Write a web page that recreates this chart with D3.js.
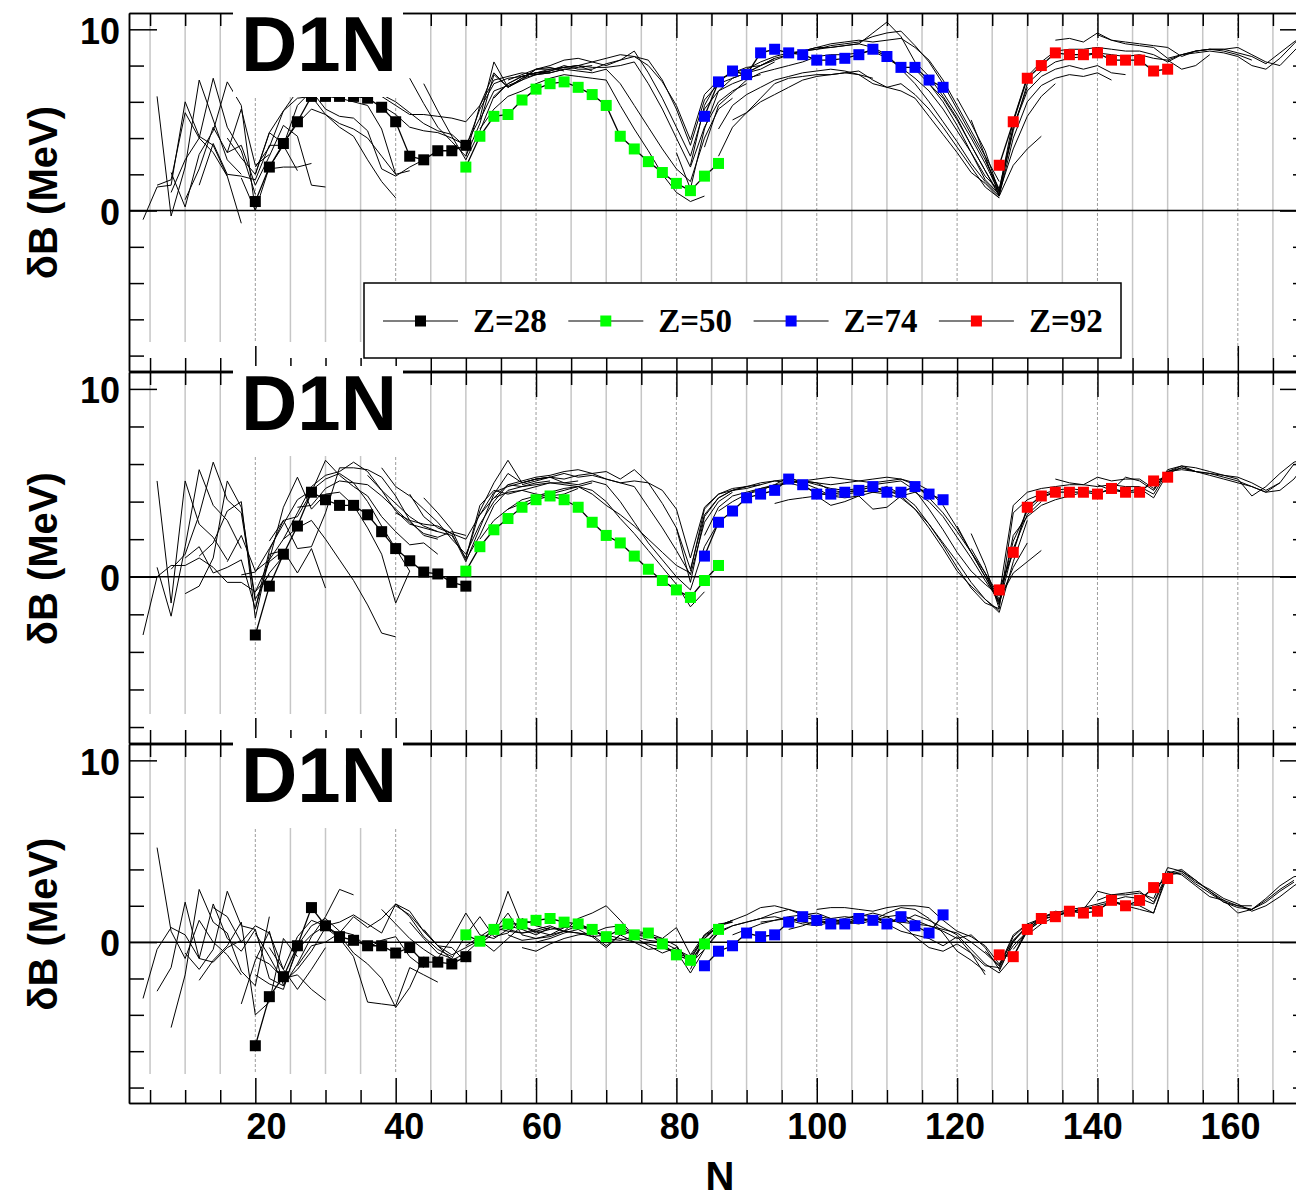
<!DOCTYPE html>
<html>
<head>
<meta charset="utf-8">
<script src="https://cdn.jsdelivr.net/npm/d3@7"></script>
<style>
  html, body { margin: 0; padding: 0; background: #fff; }
  svg { display: block; }
  text { font-family: "Liberation Sans", Arial, sans-serif; font-weight: bold; fill: #000; }
  .legend text { font-family: "Liberation Serif", "Times New Roman", serif; }
</style>
</head>
<body>
<svg id="chart" width="1296" height="1199"></svg>
<script>
// ---------------- data ----------------
// highlighted isotopic chains
const zLabels = ['Z=28', 'Z=50', 'Z=74', 'Z=92'];
const zColors = ['#000000', '#00ff00', '#0000ff', '#ff0000'];
const zFirstN = [20, 50, 84, 126];   // first N of each highlighted chain, then one value every 2 neutrons

// top panel
const top_Z28 = [0.5, 2.4, 3.7, 4.9, 6.3, 6.3, 6.3, 6.3, 6.2, 5.7, 4.9, 3.0, 2.8, 3.3, 3.3, 3.6];
const top_Z50 = [2.4, 4.1, 5.2, 5.3, 6.1, 6.7, 7.0, 7.1, 6.8, 6.4, 5.8, 4.1, 3.4, 2.7, 2.1, 1.5, 1.1, 1.9, 2.6];
const top_Z74 = [5.2, 7.1, 7.7, 7.5, 8.7, 8.9, 8.7, 8.6, 8.3, 8.3, 8.4, 8.6, 8.9, 8.5, 7.9, 7.9, 7.2, 6.8];
const top_Z92 = [2.5, 4.9, 7.3, 8.0, 8.7, 8.6, 8.6, 8.7, 8.3, 8.3, 8.3, 7.7, 7.8];
// middle panel
const mid_Z28 = [-3.1, -0.5, 1.2, 2.7, 4.5, 4.1, 3.8, 3.8, 3.3, 2.4, 1.5, 0.85, 0.25, 0.15, -0.3, -0.5];
const mid_Z50 = [0.3, 1.6, 2.5, 3.1, 3.7, 4.1, 4.3, 4.1, 3.7, 2.9, 2.2, 1.8, 1.1, 0.4, -0.2, -0.7, -1.1, -0.2, 0.6];
const mid_Z74 = [1.1, 2.9, 3.5, 4.2, 4.4, 4.6, 5.2, 4.9, 4.4, 4.4, 4.5, 4.6, 4.8, 4.5, 4.5, 4.8, 4.4, 4.1];
const mid_Z92 = [-0.7, 1.3, 3.7, 4.3, 4.5, 4.5, 4.5, 4.4, 4.7, 4.5, 4.5, 5.1, 5.3];
// bottom panel
const bot_Z28 = [-5.7, -3.0, -1.9, -0.2, 1.9, 0.9, 0.3, 0.1, -0.2, -0.2, -0.6, -0.3, -1.1, -1.1, -1.2, -0.8];
const bot_Z50 = [0.4, 0.05, 0.7, 1.0, 1.0, 1.2, 1.3, 1.1, 1.0, 0.7, 0.3, 0.7, 0.4, 0.5, -0.1, -0.7, -1.0, -0.1, 0.7];
const bot_Z74 = [-1.3, -0.5, -0.2, 0.5, 0.3, 0.4, 1.1, 1.4, 1.2, 1.0, 1.0, 1.3, 1.2, 1.0, 1.4, 0.9, 0.5, 1.5];
const bot_Z92 = [-0.7, -0.8, 0.7, 1.3, 1.4, 1.7, 1.6, 1.7, 2.3, 2.0, 2.3, 3.0, 3.5];

// all other chains (thin lines): first entry is the starting N, then one value every 2 neutrons
const top_chains = [
  [4, -0.5, 1.3, 1.4, 6.0, 4.1, 3.6, 1.9],
  [6, 6.3, -0.3, 2.4, 7.2, 5.0, 2.8, 2.0],
  [6, 1.4, 1.7, 5.4, 4.0, 7.3, 4.6, 3.3, 0.9],
  [8, 2.1, 0.2, 3.1, 4.4, 7.1, 5.8, 0.0],
  [10, 0.6, 2.3, 4.6, 3.2, 5.6, 2.5, 3.1],
  [12, 1.4, 3.7, 2.0, 1.9, 1.7, 3.6, 3.6, 2.2],
  [8, 1.0, 2.8, 4.0, 3.2, 1.9, -0.7],
  [16, 4.0, 2.9, 2.0, 4.3, 5.5, 6.6, 6.4, 6.3, 6.2, 6.0, 5.8, 4.5, 2.0],
  [18, 1.8, 0.0, 2.4, 3.6, 5.8, 6.6, 5.6, 5.2, 5.1, 4.4, 2.3, 1.9, 2.4, 2.8],
  [16, 3.2, 3.6, 1.4, 3.0, 4.7, 4.1, 1.4, 1.3],
  [20, 2.4, 3.5, 5.5, 6.2, 6.3, 5.3, 4.6, 4.1, 2.8, 1.6, 0.7],
  [22, 2.3, 2.4, 2.4, 2.6],
  [20, 2.0, 4.3, 3.7, 4.8, 5.6, 5.3, 4.8, 4.5, 4.0, 3.0, 2.0, 2.2],
  [36, 6.5, 6.3, 5.8, 5.3, 5.3, 5.2, 5.1, 4.9, 5.8, 7.2, 7.4, 7.6, 7.5, 7.7],
  [38, 6.4, 6.0, 5.4, 4.8, 4.4, 4.2, 3.5, 5.6, 7.0, 7.3, 7.4, 7.6, 7.6],
  [42, 7.3, 5.9, 4.6, 3.8, 3.0, 4.8, 7.5, 6.8, 7.3, 7.8, 7.9, 7.7],
  [44, 7.0, 5.5, 4.1, 2.8, 4.4, 6.3, 7.0, 7.4, 7.6, 7.7, 7.9, 8.0, 7.7],
  [38, 5.8, 5.3, 4.6, 4.4, 4.3, 4.0, 3.6, 5.1, 8.2, 6.8, 7.3, 7.5, 7.6, 7.8, 7.9, 8.0],
  [52, 4.5, 5.6, 6.3, 6.6, 7.0, 7.3, 7.5, 7.4, 7.3, 7.2, 5.8, 4.5, 3.3, 2.0, 1.0, 0.5, 0.8],
  [50, 3.0, 5.8, 7.6, 6.8, 7.2, 7.5, 7.6, 7.8, 7.7, 7.6, 7.8, 7.0, 5.8, 4.6, 3.4, 2.3, 1.6, 4.0, 5.6, 6.2],
  [52, 5.0, 6.6, 6.9, 7.2, 7.8, 7.8, 7.9, 8.0, 7.9, 7.9, 8.0, 8.2, 7.0, 5.6, 4.0, 2.4, 4.6, 6.0, 6.6, 7.0],
  [54, 6.2, 7.0, 7.4, 7.6, 7.7, 8.0, 7.8, 7.8, 8.1, 8.3, 8.8, 7.6, 6.2, 4.6, 3.0, 5.6, 6.6, 7.0, 7.3, 7.5],
  [56, 7.2, 7.5, 7.8, 8.0, 8.3, 8.4, 8.2, 8.0, 8.3, 8.5, 8.3, 7.2, 5.6, 3.6, 6.1, 7.0, 7.3, 7.6, 7.8, 8.2],
  [58, 7.4, 7.6, 7.8, 7.9, 8.0, 8.2, 8.4, 8.6, 8.5, 8.0, 7.1, 5.8, 3.9, 6.4, 7.2, 7.6, 7.9, 8.0, 8.4],
  [80, 3.2, 1.2, 4.5, 6.6, 7.3, 7.6, 8.0, 8.3, 8.6, 8.8, 8.9, 9.0, 9.1, 9.2, 9.8, 10.4, 9.6, 8.2, 7.4, 6.3, 5.1, 3.6, 2.2, 0.9],
  [82, 2.5, 5.8, 7.2, 7.6, 7.8, 8.2, 8.5, 8.7, 8.8, 9.0, 9.0, 9.1, 9.2, 9.0, 8.6, 7.8, 7.0, 6.0, 4.9, 3.8, 2.6, 1.6, 0.8],
  [84, 3.5, 5.8, 6.5, 7.2, 7.6, 7.8, 8.0, 8.2, 8.5, 8.6, 8.6, 8.7, 8.8, 8.4, 7.9, 7.3, 6.6, 5.6, 4.4, 3.2, 1.9, 1.1],
  [86, 4.5, 5.8, 6.4, 6.8, 7.2, 7.4, 7.6, 7.7, 7.8, 7.7, 7.5, 7.0, 6.8, 7.0, 6.4, 5.6, 4.6, 3.5, 2.4, 1.3, 0.7],
  [86, 3.0, 4.6, 5.4, 6.0, 6.4, 6.8, 7.2, 7.4, 7.5, 7.6, 7.5, 7.3],
  [88, 5.0, 5.4, 6.2, 7.0, 7.3, 7.4, 7.5, 7.5, 7.6, 7.7, 7.2, 6.8, 6.6, 6.2, 5.2, 4.2, 3.2, 2.1, 1.5, 0.7],
  [90, 7.6, 8.0, 8.4, 8.6, 8.8, 9.0, 9.2, 9.3, 9.4, 9.3, 9.4, 9.5, 9.0, 8.3, 7.2, 5.8, 4.4, 3.0, 1.6],
  [96, 8.6, 8.8, 8.9, 9.1, 9.2, 9.3, 9.6, 9.8, 9.9, 9.1, 8.2, 7.0, 5.6, 4.2, 2.8, 1.2, 4.6, 6.8],
  [122, 5.0, 3.0, 0.8, 2.5, 3.4, 4.1],
  [118, 6.5, 5.3, 4.0, 2.6, 1.0, 3.4, 5.2, 6.3, 7.0],
  [116, 7.0, 6.2, 5.0, 3.6, 2.2, 0.8, 4.0, 6.0, 6.9, 7.3, 7.5, 7.4, 7.6, 7.2],
  [114, 7.8, 7.0, 6.0, 4.7, 3.2, 1.7, 0.9, 4.6, 6.6, 7.4, 7.8, 8.0, 7.8, 8.0, 7.6, 7.5],
  [120, 6.2, 4.8, 3.3, 1.0, 4.4, 7.0, 7.7, 8.2, 8.4, 8.5, 8.7, 8.6, 8.5, 8.6, 8.4, 8.3, 7.8, 8.0, 8.6],
  [124, 2.8, 1.1, 5.0, 7.4, 8.2, 8.8, 8.9, 8.9, 9.0, 8.9, 8.8, 8.8, 8.6, 8.2, 8.6, 8.8, 8.9, 8.8, 8.6, 8.3],
  [134, 9.4, 9.5, 9.3, 9.8, 9.4, 9.2, 9.1, 9.0, 8.4, 8.6, 8.8, 8.9, 8.9, 8.7, 8.5, 8.1, 8.7, 9.3, 9.8],
  [140, 9.7, 9.4, 9.3, 9.2, 9.1, 9.0, 8.5, 8.8, 8.9, 8.9, 9.0, 8.6, 8.2, 8.0, 8.8, 9.6],
  [150, 8.3, 8.6, 8.7, 8.8, 8.7, 8.5, 8.0, 7.8, 8.4, 9.2, 10.0]
];

const mid_chains = [
  [4, -3.1, 0.0, 0.6, 0.6, 1.0, 0.5, -0.3, -0.3, -0.8, 0.1],
  [6, 5.1, -1.4, 5.1, 2.8, 2.1, 0.9],
  [6, 0.5, -2.1, 1.6, 5.7, 3.8, 3.0, 1.5],
  [8, 0.4, 1.2, 3.3, 6.1, 4.1, 3.4, -1.3],
  [10, -0.9, -0.5, 1.0, 5.1, 3.7, -1.2, 0.2, 1.1],
  [10, 1.0, 1.6, 0.2, 0.5, 0.9, -1.7, 0.9],
  [12, 1.1, 1.8, 3.5, 4.0, -2.2, 1.2, 1.4],
  [16, 0.8, 2.2, 0.3, 0.9, 3.7, 5.3, 3.6, 4.4, 4.5, 3.8, 2.6, 1.2, -1.4, 0.3],
  [18, 0.1, 0.25, 1.5, 2.8, 4.1, 4.6, 5.2, 5.5, 5.0, 4.0, 2.7, 1.5, 0.3],
  [22, 0.9, 2.0, 2.6, 3.0, 2.0, 0.9, -0.2, -1.5, -3.0, -3.2],
  [20, -1.7, 1.4, 3.0, 3.2, 4.5, 6.2, 5.4, 4.8, 4.3, 3.2, 2.4, 1.7, 1.8, 1.2],
  [22, 1.9, 3.0, 1.5, 1.6, 3.4, 5.8, 5.8, 5.7, 5.3, 4.3, 3.0, 2.2, 2.0],
  [24, 2.0, 3.4, 4.8, 5.4, 5.6, 6.1, 5.6, 4.6, 3.5, 2.8, 2.6, 2.4],
  [20, -0.8, 0.8, 1.4, 0.2, 1.5, -0.6],
  [26, 3.7, 3.8, 4.7, 5.1, 5.0, 4.9, 4.3, 3.6, 2.9, 2.3, 2.1, 2.4, 2.2],
  [36, 5.4, 4.6, 3.9, 3.2, 2.7, 2.4, 2.2, 1.0, 3.5, 5.0, 6.2, 5.0, 5.2, 5.3],
  [38, 5.8, 4.8, 4.3, 3.6, 2.9, 2.0, 1.2, 2.8, 4.0, 4.9, 4.8, 5.0, 5.1],
  [42, 4.4, 3.2, 2.6, 2.3, 0.8, 2.6, 4.4, 5.5, 5.0, 5.2, 5.3, 5.0, 5.1],
  [44, 4.2, 3.4, 2.5, 0.9, 2.2, 3.8, 4.6, 4.8, 4.9, 5.0, 4.9, 4.8, 5.0],
  [40, 3.4, 3.0, 2.8, 2.7, 2.3, 2.0, 3.3, 4.2, 4.5, 4.6, 4.4, 4.3, 4.4, 4.7],
  [52, 2.0, 3.0, 3.6, 4.1, 4.3, 4.5, 4.7, 4.8, 4.6, 4.0, 3.1, 2.3, 1.4, 0.5, -0.4, -1.6, -0.8],
  [50, 1.0, 3.8, 4.6, 4.4, 4.6, 4.8, 5.0, 5.0, 4.9, 5.1, 4.9, 4.0, 2.9, 1.8, 0.9, 0.0, -0.7, 1.6, 2.9],
  [52, 3.3, 4.5, 4.8, 5.0, 5.2, 5.3, 5.2, 5.4, 5.5, 5.2, 5.0, 4.8, 3.7, 2.6, 1.4, 0.1, 2.9, 4.0, 4.5],
  [54, 4.2, 4.9, 5.1, 5.3, 5.4, 5.6, 5.7, 5.5, 5.6, 5.2, 5.7, 5.0, 3.9, 2.6, 0.4, 3.3, 4.2, 4.6, 4.8],
  [58, 4.9, 5.1, 5.3, 5.5, 5.3, 5.4, 5.2, 5.0, 5.1, 5.0, 4.6, 3.6, 1.0, 3.7, 4.4, 4.7, 4.8, 4.9],
  [56, 3.6, 3.9, 4.2, 4.4, 4.6, 4.8, 4.4, 3.8, 3.3, 2.7, 2.0, 1.3, 0.6, 0.2],
  [80, 2.6, -0.3, 3.2, 4.2, 4.6, 4.8, 5.0, 5.1, 5.2, 5.1, 4.9, 4.7, 4.6, 4.7, 4.9, 5.0, 5.1, 4.6, 3.6, 2.5, 1.3, 0.3, -0.4, -1.0],
  [82, 0.3, 3.6, 4.4, 4.6, 4.7, 4.9, 5.1, 5.0, 4.8, 4.5, 4.3, 4.4, 4.5, 4.6, 4.8, 4.4, 3.8, 2.8, 1.7, 0.5, -0.6, -1.4, -1.7],
  [84, 2.2, 3.7, 4.3, 4.5, 4.7, 4.9, 5.3, 5.0, 4.7, 4.3, 4.2, 4.3, 4.5, 4.4, 4.2, 3.6, 2.6, 1.5, 0.3, -0.5, -1.2, -1.8],
  [86, 3.5, 4.0, 4.4, 4.6, 4.9, 5.0, 5.1, 5.0, 4.6, 4.5, 4.6, 4.5, 4.6, 4.3, 3.6, 2.8, 1.8, 0.8, -0.3, -1.2, -1.9, 0.8, 3.0],
  [90, 4.4, 4.7, 4.8, 5.0, 5.1, 5.2, 5.3, 5.2, 5.1, 5.0, 5.1, 5.2, 4.9, 4.2, 3.4, 2.4, 1.3, 0.2, -1.5, 1.5, 3.3, 4.0],
  [94, 3.9, 4.1, 4.2, 4.3, 3.8, 4.0, 4.3, 3.6, 3.7, 4.3, 4.5, 4.0, 3.2, 2.1, 1.0, -0.2, -1.3, 0.5, 1.8],
  [96, 5.0, 5.1, 5.0, 4.9, 5.0, 5.1, 5.2, 5.3, 5.2, 5.0, 4.6, 3.8, 2.6, 1.3, 0.0, -1.3, 1.9, 3.5, 4.2, 4.5],
  [122, 1.5, 0.2, -1.2, 0.2, 0.8, 1.4],
  [120, 2.7, 1.3, 0.0, -1.4, 2.2, 3.2, 3.8, 4.1, 4.3, 4.5],
  [122, 2.3, 0.6, -1.7, 3.4, 4.1, 4.4, 4.6, 4.7, 4.6, 4.5, 4.6, 4.5, 4.7, 4.2, 5.5, 5.8, 5.6],
  [124, 0.2, -1.0, 3.8, 4.5, 4.7, 4.8, 4.9, 4.9, 4.8, 4.9, 4.8, 4.8, 4.4, 5.6, 5.9, 5.6, 5.5, 5.3, 5.1, 4.8, 4.5, 5.0],
  [134, 5.2, 5.0, 4.9, 5.3, 5.1, 5.2, 5.2, 4.7, 5.6, 5.8, 5.6, 5.5, 5.4, 5.3, 5.0, 4.6, 5.0, 6.0],
  [140, 4.9, 4.6, 5.3, 5.1, 4.6, 5.7, 5.9, 5.8, 5.6, 5.4, 5.2, 4.3, 4.8, 5.5, 6.1, 6.3],
  [148, 4.6, 5.6, 5.7, 5.6, 5.4, 5.2, 5.0, 4.8, 4.5, 4.6, 5.2, 6.2]
];

const bot_chains = [
  [4, -3.1, -0.4, 0.8, 0.4, -0.9, -1.1, -0.3, 0.1],
  [6, 5.2, 0.6, -0.9, 1.2, 0.0, -0.7, -1.8],
  [6, -2.7, -1.4, 2.2, -0.9, 2.1, 0.2, -0.5, 0.7],
  [8, -4.7, -1.8, 2.9, 1.1, 0.5, -1.6, -2.4, 1.4],
  [10, -0.6, -1.5, -0.4, 2.8, 0.9, 0.7, -2.0, -2.4],
  [12, -2.1, -1.0, -0.2, 1.1, -4.0, -3.3, 0.2, -0.8],
  [14, 1.9, 1.4, 0.0, 0.9, 0.5, -1.5, -2.6, -1.5, -0.3],
  [18, -3.4, -1.0, 0.6, -2.4, -1.2, 0.3, 1.4, 2.9, 2.6],
  [20, -1.8, -2.3, -2.6, -0.2, 0.9, 1.3, 0.6, 0.4, -0.3, 0.1, 0.3, -0.8, -1.4],
  [20, 0.5, -0.8, -2.2, -1.5, -0.5, 0.8, 0.2, -0.8, -3.3, -3.4, -3.5, -1.4, -1.8, -2.2],
  [20, -0.8, -1.2, -2.0, -1.8, -2.6, -3.2],
  [22, -0.3, -1.5, 0.3, 1.2, 0.9, 0.4, -0.6, -1.2, -2.0, -3.6, -2.5, -0.8],
  [24, -2.4, -0.4, 0.4, 0.9, 1.1, 1.5, 1.0, 0.5, 2.1, 1.4, 0.3, -0.4, -0.8],
  [26, -1.3, -0.2, 0.0, 0.5, 1.4, 0.8, 1.3, 2.1, 1.7, 0.6, -0.2, -0.3, -1.1],
  [38, 1.8, 1.0, 0.2, -0.4, -0.9, 0.2, 1.6, 0.4, 0.2, 0.7, 0.5, 0.6, 0.8],
  [40, 2.0, 1.5, 0.6, -0.2, -0.7, -0.3, 0.1, 0.6, 2.8, 0.9, 0.5, 0.7],
  [42, 1.1, 0.2, -0.6, -0.9, 0.4, 1.4, 0.3, 0.5, 1.3, 0.9, 0.7, 0.8],
  [44, 0.7, -0.2, -1.0, -0.6, 0.1, -0.5, 0.2, 0.9, 0.6, 0.4, 0.8, 0.9, 0.6],
  [50, -0.2, 0.3, 0.8, 0.6, 0.5, 0.7, 0.9, 0.6, 0.5, 0.3, 0.4, 0.2, 0.0, -0.1, -0.3, -0.5, -1.7, -0.4],
  [52, -0.1, 0.5, 0.9, 0.7, 0.4, 0.8, 0.6, 0.9, 0.7, 0.2, 0.1, 0.3, -0.2, -0.6, -0.3, -1.0, 0.4, 0.8],
  [54, 0.6, 1.6, 0.4, 0.2, 0.4, 0.6, 0.5, 0.4, -0.2, 0.4, 0.0, -0.4, -0.3, -0.6, -0.9, 0.2, 0.9, 1.1],
  [56, 0.4, 0.1, 0.2, 0.3, 0.6, 1.3, 1.6, 2.0, 1.2, 0.3, 0.1, 0.0, -0.4, -0.8, 0.3, 0.9, 1.2],
  [58, -0.3, -0.5, -0.1, 0.2, 0.4, 0.5, 0.8, 0.9, 0.4, 0.3, 0.2, 0.8, -0.7, 0.4, 1.0, 1.1],
  [60, 0.0, 0.2, 0.5, 0.7, 0.3, -0.3, 0.4, 0.6, 0.5, 0.2, -0.2, -1.2, 0.2, 0.9, 1.2],
  [80, -0.2, -1.2, -0.4, 0.6, 0.9, 1.1, 1.3, 1.6, 1.8, 1.6, 1.4, 1.3, 1.4, 1.3, 1.2, 1.6, 1.9, 1.8, 1.3, 0.5, -0.5, -1.0, -1.6],
  [82, -1.5, 0.2, 0.9, 1.2, 1.5, 1.9, 2.0, 1.8, 1.5, 1.3, 1.2, 1.1, 1.4, 1.6, 1.4, 1.0, 0.3, -0.3, -0.5, -0.1, -0.6, -1.8],
  [84, -0.4, 0.5, 0.9, 1.1, 1.3, 1.4, 1.2, 1.0, 0.9, 1.1, 1.3, 1.5, 1.4, 1.0, 0.6, 0.4, 0.2, -0.2, 0.3, -0.6, -1.3, -1.4, 0.3, 1.0],
  [88, 0.4, 0.7, 1.0, 1.2, 1.3, 1.1, 1.0, 1.2, 1.0, 1.1, 1.3, 1.2, 1.1, 1.5, 1.2, 0.8, 0.4, -0.4, -1.2, -1.7, -0.8, 0.6, 1.2],
  [92, 1.1, 1.2, 1.4, 1.5, 1.6, 1.3, 1.1, 1.0, 1.2, 1.4, 1.5, 1.2, 0.9, 0.6, 0.2, 0.4, -0.3, -1.5, 0.0, 0.9],
  [96, 0.7, 0.9, 1.2, 1.1, 1.0, 1.2, 1.3, 1.2, 1.1, 1.0, 0.9, 0.7, 0.5, 0.0, -0.6, -1.3, -0.2, 0.6, 1.4, 1.6],
  [100, 1.8, 1.9, 1.9, 1.8, 1.7, 1.9, 2.0, 2.0, 1.9, 1.2, 0.6, 0.3, -0.2, -1.2, 0.1, 0.8, 1.4],
  [124, -0.5, -1.3, 0.4, 1.0, 1.3, 1.6, 1.8, 1.9, 2.1, 2.3, 2.5, 2.4, 2.1, 3.7, 3.9, 3.4, 2.8, 2.3, 2.0, 2.0],
  [126, -1.6, 0.1, 0.9, 1.3, 1.7, 1.6, 1.8, 2.8, 2.6, 2.6, 2.7, 2.4, 4.1, 3.9, 3.3, 2.9, 2.4, 2.1, 1.7, 2.0, 2.5, 3.1, 3.6],
  [128, -0.4, 0.6, 1.2, 1.5, 1.6, 1.9, 1.8, 2.2, 2.0, 1.8, 1.6, 3.7, 3.8, 3.2, 2.7, 2.2, 2.0, 1.8, 2.2, 2.8, 3.3],
  [130, 0.4, 1.0, 1.4, 1.7, 1.8, 2.0, 2.2, 2.1, 2.0, 1.6, 3.9, 3.7, 3.1, 2.5, 2.3, 1.6, 1.8, 2.3, 2.9, 3.4],
  [140, 2.3, 2.6, 2.7, 2.8, 2.2, 3.8, 4.0, 3.4, 2.8, 2.2, 1.9, 1.8, 2.4, 3.1, 3.6, 3.7]
];

// axis values
const gridN = [5, 10, 15, 20, 25, 30, 35, 40, 45, 50, 55, 60, 65, 70, 75, 80, 85, 90, 95, 100,
               105, 110, 115, 120, 125, 130, 135, 140, 145, 150, 155, 160, 165];
const nLabels = [20, 40, 60, 80, 100, 120, 140, 160];
const yMinorTicks = [-8, -6, -4, -2, 2, 4, 6, 8];
const yLabelTicks = [0, 10];
const panelTitle = 'D1N';
const yTitle = 'δB (MeV)';
const xTitle = 'N';

// ---------------- layout ----------------
const svg = d3.select('#chart');
const x = d3.scaleLinear().domain([2, 170]).range([129, 1308]);
// the printed N labels sit on a slightly different spacing than the grid in the original figure
const xLabel = d3.scaleLinear().domain([20, 160]).range([266, 1230]);
const Y_DOMAIN = [-8.85, 10.9];

const panels = [
  { top: 13,  bottom: 371,  hl: [top_Z28, top_Z50, top_Z74, top_Z92], chains: top_chains },
  { top: 372, bottom: 743,  hl: [mid_Z28, mid_Z50, mid_Z74, mid_Z92], chains: mid_chains },
  { top: 744, bottom: 1103, hl: [bot_Z28, bot_Z50, bot_Z74, bot_Z92], chains: bot_chains }
];

const toPoints = (n0, vals) => vals.map((v, i) => [n0 + 2 * i, v]);
const isMajor = n => n % 20 === 0;

function drawPanel(p) {
  const y = d3.scaleLinear().domain(Y_DOMAIN).range([p.bottom, p.top]);
  const g = svg.append('g');

  // vertical grid (left block ends a bit higher, as in the original)
  g.selectAll('line.grid').data(gridN).join('line')
    .attr('class', 'grid')
    .attr('x1', d => x(d)).attr('x2', d => x(d))
    .attr('y1', p.top)
    .attr('y2', d => d <= 40 ? p.bottom - 29 : p.bottom - 13)
    .attr('stroke', d => isMajor(d) ? '#9c9c9c' : '#c6c6c6')
    .attr('stroke-width', d => isMajor(d) ? 1 : 1.5)
    .attr('stroke-dasharray', d => isMajor(d) ? '3,2' : null);

  // zero line
  g.append('line')
    .attr('x1', x(2)).attr('x2', x(170))
    .attr('y1', y(0)).attr('y2', y(0))
    .attr('stroke', '#000').attr('stroke-width', 1.5);

  const line = d3.line().x(d => x(d[0])).y(d => y(d[1]));

  // all chains
  g.selectAll('path.chain').data(p.chains).join('path')
    .attr('class', 'chain')
    .attr('d', c => line(toPoints(c[0], c.slice(1))))
    .attr('fill', 'none')
    .attr('stroke', '#000')
    .attr('stroke-width', 1);

  // highlighted chains
  p.hl.forEach((vals, k) => {
    const pts = toPoints(zFirstN[k], vals);
    g.append('path')
      .attr('d', line(pts))
      .attr('fill', 'none')
      .attr('stroke', '#000')
      .attr('stroke-width', 1.3);
    g.append('g').selectAll('rect').data(pts).join('rect')
      .attr('x', d => x(d[0]) - 5.5)
      .attr('y', d => y(d[1]) - 5.5)
      .attr('width', 11).attr('height', 11)
      .attr('fill', zColors[k]);
  });

  // frame + ticks
  const frame = svg.append('g');
  const tickStyle = sel => {
    sel.selectAll('line').attr('stroke', '#000').attr('stroke-width', 1.5);
    sel.select('.domain').attr('stroke', '#000').attr('stroke-width', 1.5);
    sel.selectAll('text').remove();
  };
  frame.append('g').attr('transform', `translate(0,${p.top})`)
    .call(d3.axisTop(x).tickValues(gridN.filter(n => !isMajor(n))).tickSize(-13).tickSizeOuter(0))
    .call(tickStyle);
  frame.append('g').attr('transform', `translate(0,${p.top})`)
    .call(d3.axisTop(x).tickValues(gridN.filter(isMajor)).tickSize(-25).tickSizeOuter(0))
    .call(tickStyle);
  frame.append('g').attr('transform', `translate(0,${p.bottom})`)
    .call(d3.axisBottom(x).tickValues(gridN.filter(n => !isMajor(n))).tickSize(-13).tickSizeOuter(0))
    .call(tickStyle);
  frame.append('g').attr('transform', `translate(0,${p.bottom})`)
    .call(d3.axisBottom(x).tickValues(gridN.filter(isMajor)).tickSize(-25).tickSizeOuter(0))
    .call(tickStyle);

  frame.append('g').attr('transform', `translate(${x(2)},0)`)
    .call(d3.axisLeft(y).tickValues(yMinorTicks).tickSize(-15).tickSizeOuter(0))
    .call(tickStyle);
  frame.append('g').attr('transform', `translate(${x(170)},0)`)
    .call(d3.axisRight(y).tickValues(yMinorTicks).tickSize(-15).tickSizeOuter(0))
    .call(tickStyle);
  frame.append('g').attr('transform', `translate(${x(170)},0)`)
    .call(d3.axisRight(y).tickValues(yLabelTicks).tickSize(-28).tickSizeOuter(0))
    .call(tickStyle);

  const yAx = frame.append('g').attr('transform', `translate(${x(2)},0)`)
    .call(d3.axisLeft(y).tickValues(yLabelTicks).tickSize(-28).tickSizeOuter(0).tickPadding(9).tickFormat(d3.format('d')));
  yAx.selectAll('line').attr('stroke', '#000').attr('stroke-width', 1.5);
  yAx.select('.domain').attr('stroke', '#000').attr('stroke-width', 1.5);
  yAx.selectAll('text').attr('font-size', 36).attr('font-family', '"Liberation Sans", Arial, sans-serif')
    .attr('font-weight', 'bold').attr('fill', '#000').attr('dy', '0.38em');

  // y title
  svg.append('text')
    .attr('transform', `translate(57,${y(0) - 18}) rotate(-90)`)
    .attr('text-anchor', 'middle')
    .attr('font-size', 40)
    .text(yTitle);

  // white label block with the interaction name
  svg.append('rect')
    .attr('x', 233).attr('y', p.top - 6)
    .attr('width', 170).attr('height', 90)
    .attr('fill', '#fff');
  svg.append('text')
    .attr('x', 319).attr('y', p.top + 58)
    .attr('text-anchor', 'middle')
    .attr('font-size', 78)
    .text(panelTitle);

  return y;
}

panels.forEach(drawPanel);

// N labels under the last panel
const xAx = svg.append('g').attr('transform', `translate(0,${panels[2].bottom})`)
  .call(d3.axisBottom(xLabel).tickValues(nLabels).tickSize(0).tickPadding(10).tickFormat(d3.format('d')));
xAx.select('.domain').remove();
xAx.selectAll('text').attr('font-size', 36).attr('font-family', '"Liberation Sans", Arial, sans-serif')
  .attr('font-weight', 'bold').attr('fill', '#000');

svg.append('text')
  .attr('x', 720).attr('y', 1190)
  .attr('text-anchor', 'middle')
  .attr('font-size', 40)
  .text(xTitle);

// legend in the top panel
const legend = svg.append('g').attr('class', 'legend');
legend.append('rect')
  .attr('x', 364).attr('y', 283).attr('width', 757).attr('height', 75)
  .attr('fill', '#fff').attr('stroke', '#000').attr('stroke-width', 1.5);
const entry = legend.selectAll('g.entry').data(zLabels).join('g')
  .attr('class', 'entry')
  .attr('transform', (d, i) => `translate(${383 + i * 185.3},321)`);
entry.append('line').attr('x1', 0).attr('x2', 75).attr('y1', 0).attr('y2', 0)
  .attr('stroke', '#000').attr('stroke-width', 1.2);
entry.append('rect').attr('x', 32).attr('y', -5.5).attr('width', 11).attr('height', 11)
  .attr('fill', (d, i) => zColors[i]);
entry.append('text').attr('x', 90).attr('y', 11)
  .attr('font-size', 33)
  .text(d => d);
</script>
</body>
</html>
